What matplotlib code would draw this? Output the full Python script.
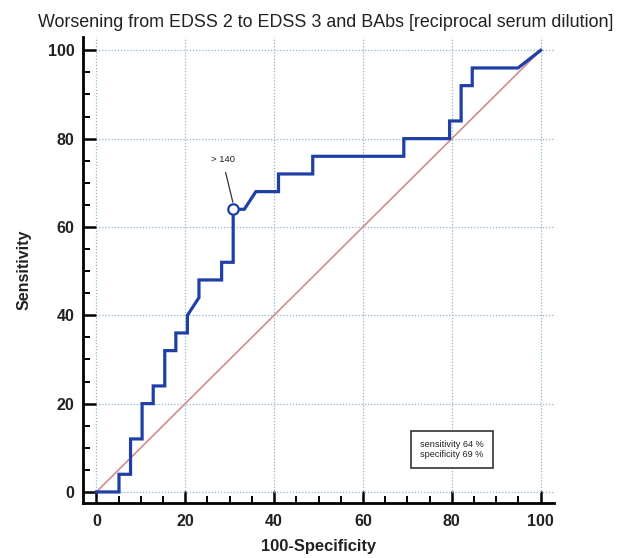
import matplotlib
matplotlib.use("Agg")
import matplotlib.pyplot as plt
from matplotlib.ticker import MultipleLocator

plt.rcParams["font.family"] = ["Liberation Sans", "DejaVu Sans"]

# ROC curve (100-Specificity, Sensitivity)
fpr = [0, 5.1, 5.1, 7.7, 7.7, 10.3, 10.3, 12.8, 12.8, 15.4, 15.4, 17.9, 17.9,
       20.5, 20.5, 23.1, 23.1, 28.2, 28.2, 30.8, 30.8, 33.3, 35.9, 41.0, 41.0,
       48.7, 48.7, 69.2, 69.2, 79.5, 79.5, 82.1, 82.1, 84.6, 84.6, 94.9, 100]
tpr = [0, 0, 4, 4, 12, 12, 20, 20, 24, 24, 32, 32, 36,
       36, 40, 44, 48, 48, 52, 52, 64, 64, 68, 68, 72,
       72, 76, 76, 80, 80, 84, 84, 92, 92, 96, 96, 100]

cut_x, cut_y = 30.8, 64
cut_label = "> 140"
stats_text = "sensitivity 64 %\nspecificity 69 %"
ticks = [0, 20, 40, 60, 80, 100]

fig = plt.figure(figsize=(6.2, 5.58), dpi=100)
ax = fig.add_axes([83 / 620, 0.0986, 471 / 620, 0.835])

ax.set_xlim(-3, 103)
ax.set_ylim(-2.5, 103)

ax.plot([0, 100], [0, 100], color="#d08c8c", lw=1.2, zorder=2)
ax.plot(fpr, tpr, color="#1f3fa6", lw=2.3, solid_joinstyle="miter", zorder=3)
ax.plot([cut_x], [cut_y], marker="o", ms=7.5, mfc="white", mec="#1f3fa6",
        mew=1.6, zorder=4)
ax.annotate(cut_label, xy=(cut_x, cut_y + 1.3), xytext=(28.4, 75.2),
            fontsize=6.8, ha="center", va="center", color="#222222",
            arrowprops=dict(arrowstyle="-", color="#333333", lw=0.9,
                            shrinkA=4, shrinkB=1), zorder=4)

ax.text(80, 9.6, stats_text, fontsize=6.6, ha="center", va="center",
        color="#222222", linespacing=1.1,
        bbox=dict(boxstyle="square,pad=1.0", fc="white", ec="#333333", lw=1.2),
        zorder=5)

ax.set_xticks(ticks)
ax.set_yticks(ticks)
ax.xaxis.set_minor_locator(MultipleLocator(5))
ax.yaxis.set_minor_locator(MultipleLocator(5))
ax.tick_params(which="major", direction="in", length=9, width=1.8,
               labelsize=11.5, colors="black", labelcolor="#222222", pad=8)
ax.tick_params(axis="y", which="major", pad=6)
ax.tick_params(which="minor", direction="in", length=5, width=1.4, colors="black")
for lab in ax.get_xticklabels() + ax.get_yticklabels():
    lab.set_fontweight("bold")

for side in ["top", "right"]:
    ax.spines[side].set_visible(False)
for side in ["left", "bottom"]:
    ax.spines[side].set_linewidth(2.0)

ax.grid(True, which="major", linestyle=(0, (1, 1.5)), color="#8fb6cc", lw=0.9)
ax.set_axisbelow(True)

ax.set_xlabel("100-Specificity", fontsize=11.9, fontweight="bold", color="#222222",
              labelpad=7)
ax.set_ylabel("Sensitivity", fontsize=11.5, fontweight="bold", color="#222222",
              labelpad=12)
fig.text(0.525, 0.96, "Worsening from EDSS 2 to EDSS 3 and BAbs [reciprocal serum dilution]",
         fontsize=12.9, ha="center", va="center", color="#222222")

fig.savefig("out.png", dpi=100, facecolor="white")
